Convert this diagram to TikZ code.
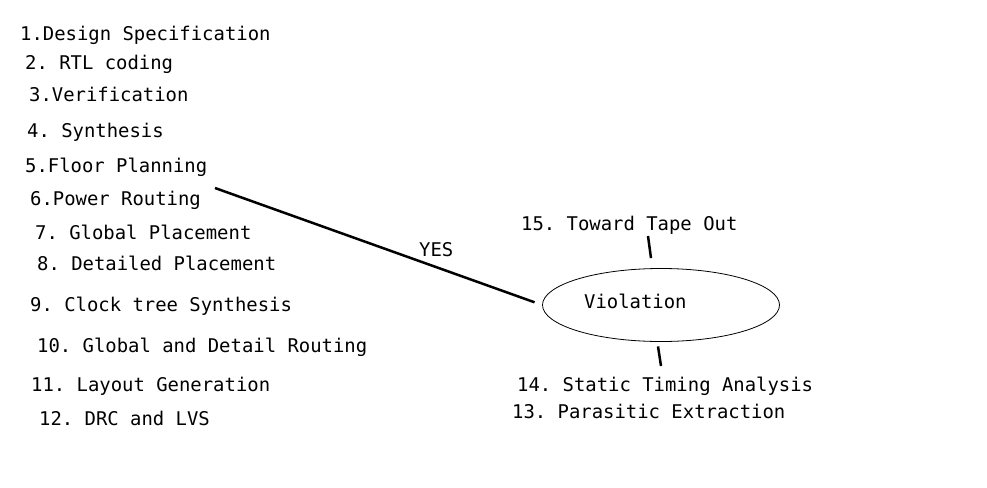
\documentclass[tikz,border=0pt]{standalone}
\usepackage{fontspec}
\setmainfont{DejaVu Sans Mono}
\usetikzlibrary{shapes.geometric}
\frenchspacing

\begin{document}
\begin{tikzpicture}[
    x=1pt, y=-1pt,
    nodes={inner sep=0pt, font=\fontsize{18.9}{23}\selectfont},
    task/.style={%
        anchor=base west},
    check/.style={%
        draw=black, line width=0.8pt, ellipse,
        minimum width=237pt, minimum height=73pt},
    link/.style={line width=2.5pt},
]
    \useasboundingbox (0,0) rectangle (987,487);
    % Design flow
    \node[task] (spec)   at (20,41)  {1.Design Specification};
    \node[task] (rtl)    at (25,70)  {2. RTL coding};
    \node[task] (verif)  at (29,101) {3.Verification};
    \node[task] (synth)  at (27,137) {4. Synthesis};
    \node[task] (floor)  at (25,172) {5.Floor Planning};
    \node[task] (power)  at (30,205) {6.Power Routing};
    \node[task] (gplace) at (35,239) {7. Global Placement};
    \node[task] (dplace) at (37,270) {8. Detailed Placement};
    \node[task] (cts)    at (30,311) {9. Clock tree Synthesis};
    \node[task] (route)  at (37,352) {10. Global and Detail Routing};
    \node[task] (layout) at (31,391) {11. Layout Generation};
    \node[task] (drc)    at (39,425) {12. DRC and LVS};
    % Timing check
    \node[check] (viol) at (661,305) {};
    \node[task] (violname) at (584,308) {Violation};
    \node[task] (tape)   at (521,230) {15. Toward Tape Out};
    \node[task] (sta)    at (517,391) {14. Static Timing Analysis};
    \node[task] (pex)    at (512,418) {13. Parasitic Extraction};
    % Connectors
    \coordinate (yesstart) at (215,188);
    \coordinate (tapeend) at (648,236);
    \coordinate (staend) at (661,366);
    \draw[link, shorten >=8pt] (yesstart) -- (viol.west);
    \node[task] (yes) at (419,256) {YES};
    \draw[link] (tapeend) -- ([shift={(-10,-10)}]viol.north);
    \draw[link] ([shift={(-3,4.5)}]viol.south) -- (staend);
\end{tikzpicture}
\end{document}
